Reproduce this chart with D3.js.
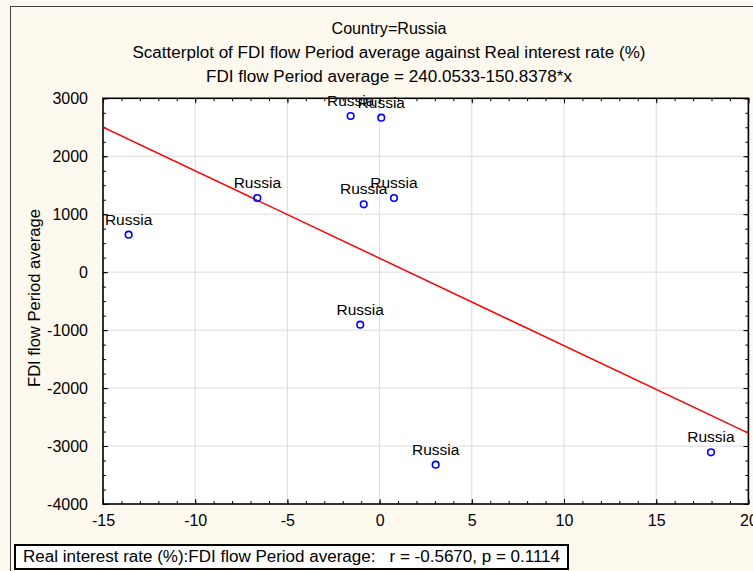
<!DOCTYPE html>
<html><head><meta charset="utf-8">
<script src="https://cdn.jsdelivr.net/npm/d3@7"></script>
<style>body{margin:0;background:#fdf9ef;} text{font-family:"Liberation Sans",Arial,sans-serif;fill:#000;}</style>
</head><body><svg id="c" width="753" height="571"></svg>
<script>
const countries = ["Russia","Russia","Russia","Russia","Russia","Russia","Russia","Russia","Russia"];
const realInterest = [-13.61, -6.63, -1.57, 0.09, -0.86, 0.78, -1.05, 3.04, 17.97];
const fdiFlow = [647, 1280, 2695, 2665, 1171, 1280, -906, -3322, -3108];
const xTicks = [-15, -10, -5, 0, 5, 10, 15, 20];
const yTicks = [-4000, -3000, -2000, -1000, 0, 1000, 2000, 3000];
const intercept = 240.0533, slope = -150.8378;
const titles = ["Country=Russia",
  "Scatterplot of FDI flow Period average against Real interest rate (%)",
  "FDI flow Period average = 240.0533-150.8378*x"];
const yTitle = "FDI flow Period average";
const footText = "Real interest rate (%):FDI flow Period average:   r = -0.5670, p = 0.1114";

const svg = d3.select("#c");
const L = 103, R = 748.4, T = 98.3, B = 504;
const x = d3.scaleLinear().domain([-15, 20]).range([L, R]);
const y = d3.scaleLinear().domain([-4000, 3000]).range([B, T]);
const fmt = d => String(d);

// figure background + border
svg.append("rect").attr("x", 0).attr("y", 0).attr("width", 753).attr("height", 571).attr("fill", "#fdf9ef");
svg.append("rect").attr("x", 10.5).attr("y", 6.5).attr("width", 800).attr("height", 800)
  .attr("fill", "none").attr("stroke", "#444").attr("stroke-width", 1);

// plot area
svg.append("rect").attr("x", L).attr("y", T).attr("width", R - L).attr("height", B - T).attr("fill", "#fff");

// grid
const g = svg.append("g");
g.selectAll(".gx").data(xTicks.slice(1, -1)).join("line")
  .attr("x1", d => x(d)).attr("x2", d => x(d)).attr("y1", T).attr("y2", B)
  .attr("stroke", "#dcdcdc").attr("stroke-width", 1);
g.selectAll(".gy").data(yTicks.slice(1, -1)).join("line")
  .attr("y1", d => y(d)).attr("y2", d => y(d)).attr("x1", L).attr("x2", R)
  .attr("stroke", "#dcdcdc").attr("stroke-width", 1);

// axes with inner ticks
const xMinor = d3.range(-15, 21, 1);
const yMinor = d3.range(-4000, 3001, 250);
function addAxis(axisGen, transform) {
  const a = svg.append("g").attr("transform", transform).call(axisGen);
  a.select(".domain").remove();
  a.selectAll("line").attr("stroke", "#000").attr("stroke-width", 1);
  return a;
}
addAxis(d3.axisBottom(x).tickValues(xMinor).tickSize(-3).tickFormat(""), `translate(0,${B})`);
addAxis(d3.axisTop(x).tickValues(xMinor).tickSize(-3).tickFormat(""), `translate(0,${T})`);
addAxis(d3.axisLeft(y).tickValues(yMinor).tickSize(-3).tickFormat(""), `translate(${L},0)`);
addAxis(d3.axisRight(y).tickValues(yMinor).tickSize(-3).tickFormat(""), `translate(${R},0)`);
const xa = addAxis(d3.axisBottom(x).tickValues(xTicks).tickSize(-5).tickPadding(11).tickFormat(fmt), `translate(0,${B})`);
xa.selectAll("text").attr("font-size", 16).attr("font-family", "Liberation Sans, Arial, sans-serif").attr("fill", "#000");
const ya = addAxis(d3.axisLeft(y).tickValues(yTicks).tickSize(-5).tickPadding(15).tickFormat(fmt), `translate(${L},0)`);
ya.selectAll("text").attr("font-size", 16).attr("font-family", "Liberation Sans, Arial, sans-serif").attr("fill", "#000");
addAxis(d3.axisTop(x).tickValues(xTicks).tickSize(-5).tickFormat(""), `translate(0,${T})`);
addAxis(d3.axisRight(y).tickValues(yTicks).tickSize(-5).tickFormat(""), `translate(${R},0)`);

// frame
svg.append("rect").attr("x", L).attr("y", T).attr("width", R - L).attr("height", B - T)
  .attr("fill", "none").attr("stroke", "#000").attr("stroke-width", 1.6);

// regression line
svg.append("clipPath").attr("id", "pc").append("rect")
  .attr("x", L).attr("y", T).attr("width", R - L).attr("height", B - T);
const xd = x.domain();
svg.append("line").attr("clip-path", "url(#pc)")
  .attr("x1", x(xd[0])).attr("y1", y(intercept + slope * xd[0]))
  .attr("x2", x(xd[1])).attr("y2", y(intercept + slope * xd[1]))
  .attr("stroke", "#ff0000").attr("stroke-width", 1.5);

// points
const pts = realInterest.map((v, i) => ({x: v, y: fdiFlow[i], label: countries[i]}));
svg.selectAll(".pt").data(pts).join("circle")
  .attr("cx", d => x(d.x)).attr("cy", d => y(d.y)).attr("r", 3.3)
  .attr("fill", "none").attr("stroke", "#0000ff").attr("stroke-width", 1.6);
svg.selectAll(".lbl").data(pts).join("text")
  .attr("x", d => x(d.x)).attr("y", d => y(d.y) - 10)
  .attr("text-anchor", "middle").attr("font-size", 15.5).text(d => d.label);

// titles
const tb = [34, 58, 81.5];
const tl = [115, 513, 366];
svg.selectAll(".title").data(titles).join("text")
  .attr("x", 389).attr("y", (d, i) => tb[i]).attr("text-anchor", "middle")
  .attr("font-size", 16).attr("textLength", (d, i) => tl[i]).attr("lengthAdjust", "spacingAndGlyphs")
  .text(d => d);

// y title
svg.append("text").attr("transform", "translate(40,298) rotate(-90)")
  .attr("text-anchor", "middle").attr("font-size", 16)
  .attr("textLength", 178).attr("lengthAdjust", "spacingAndGlyphs").text(yTitle);

// footer box
svg.append("rect").attr("x", 15).attr("y", 545).attr("width", 553).attr("height", 24)
  .attr("fill", "#fff").attr("stroke", "#000").attr("stroke-width", 2);
svg.append("text").attr("x", 23).attr("y", 562).attr("font-size", 16)
  .attr("textLength", 537).attr("lengthAdjust", "spacingAndGlyphs")
  .attr("xml:space", "preserve").style("white-space", "pre").text(footText);
</script></body></html>
